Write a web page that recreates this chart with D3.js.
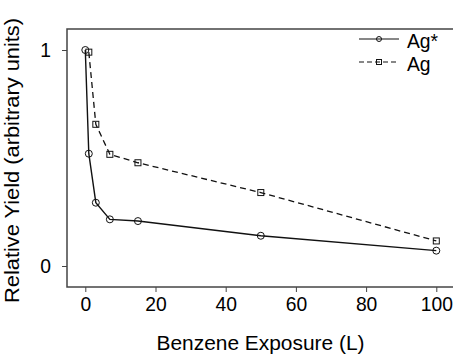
<!DOCTYPE html>
<html>
<head>
<meta charset="utf-8">
<script src="https://cdn.jsdelivr.net/npm/d3@7"></script>
<style>
  body { margin: 0; background: #fff; }
  text { font-family: "Liberation Sans", Arial, sans-serif; fill: #000; }
</style>
</head>
<body>
<svg id="chart"></svg>
<script>
let w = 453
let h = 355

// data
let exposureStar = [0, 1, 3, 7, 15, 50, 100]
let yieldStar = [1.0, 0.52, 0.293, 0.216, 0.208, 0.14, 0.071]
let exposureAg = [1, 3, 7, 15, 50, 100]
let yieldAg = [0.99, 0.656, 0.517, 0.478, 0.34, 0.116]
let xTicks = [0, 20, 40, 60, 80, 100]
let yTicks = [0, 1]
let seriesNames = ["Ag*", "Ag"]

let svg = d3.select("#chart")
    .attr("width", w)
    .attr("height", h)

let x = d3.scaleLinear().domain([0, 100]).range([85.3, 436.3])
let y = d3.scaleLinear().domain([0, 1]).range([266, 50])

let frameLeft = 67, frameTop = 29, frameBottom = 287

// frame (box runs off the right edge)
svg.append("rect")
    .attr("x", frameLeft)
    .attr("y", frameTop)
    .attr("width", w + 10 - frameLeft)
    .attr("height", frameBottom - frameTop)
    .attr("fill", "none")
    .attr("stroke", "#444")
    .attr("stroke-width", 1.5)

let xAxis = svg.append("g")
    .attr("transform", `translate(0,${frameBottom})`)
    .call(d3.axisBottom(x).tickValues(xTicks).tickSize(5).tickPadding(5))
xAxis.select(".domain").remove()
xAxis.selectAll("line").attr("stroke", "#444")
xAxis.selectAll("text").attr("font-size", 19.3).attr("font-family", "Liberation Sans, Arial, sans-serif")

let yAxis = svg.append("g")
    .attr("transform", `translate(${frameLeft},0)`)
    .call(d3.axisLeft(y).tickValues(yTicks).tickFormat(d3.format("d")).tickSize(5).tickPadding(11))
yAxis.select(".domain").remove()
yAxis.selectAll("line").attr("stroke", "#444")
yAxis.selectAll("text").attr("font-size", 19.3).attr("font-family", "Liberation Sans, Arial, sans-serif")

svg.append("text")
    .attr("x", 156.5)
    .attr("y", 350)
    .attr("font-size", 19.5)
    .attr("textLength", 208)
    .attr("lengthAdjust", "spacingAndGlyphs")
    .text("Benzene Exposure (L)")

svg.append("text")
    .attr("transform", "translate(19,303) rotate(-90)")
    .attr("font-size", 19.5)
    .attr("textLength", 285)
    .attr("lengthAdjust", "spacingAndGlyphs")
    .text("Relative Yield (arbitrary units)")

let line = d3.line().x(d => x(d[0])).y(d => y(d[1]))
let starPts = exposureStar.map((e, i) => [e, yieldStar[i]])
let agPts = exposureAg.map((e, i) => [e, yieldAg[i]])

svg.append("path")
    .datum(agPts)
    .attr("d", line)
    .attr("fill", "none")
    .attr("stroke", "#111")
    .attr("stroke-width", 1.3)
    .attr("stroke-dasharray", "6,4")

svg.append("path")
    .datum(starPts)
    .attr("d", line)
    .attr("fill", "none")
    .attr("stroke", "#111")
    .attr("stroke-width", 1.4)

svg.selectAll(".sq")
    .data(agPts)
    .enter()
    .append("rect")
    .attr("x", d => x(d[0]) - 3)
    .attr("y", d => y(d[1]) - 3)
    .attr("width", 6)
    .attr("height", 6)
    .attr("fill", "none")
    .attr("stroke", "#111")
    .attr("stroke-width", 1)

svg.selectAll(".ci")
    .data(starPts)
    .enter()
    .append("circle")
    .attr("cx", d => x(d[0]))
    .attr("cy", d => y(d[1]))
    .attr("r", 3.5)
    .attr("fill", "none")
    .attr("stroke", "#111")
    .attr("stroke-width", 1)

// legend
let legend = svg.append("g")
seriesNames.forEach((name, i) => {
    let ly = 39 + i * 23
    legend.append("line")
        .attr("x1", 359).attr("x2", 399)
        .attr("y1", ly).attr("y2", ly)
        .attr("stroke", "#111")
        .attr("stroke-width", 1.2)
        .attr("stroke-dasharray", i == 1 ? "5,3" : null)
    if (i == 0) {
        legend.append("circle")
            .attr("cx", 379).attr("cy", ly).attr("r", 2.5)
            .attr("fill", "none").attr("stroke", "#111")
    } else {
        legend.append("rect")
            .attr("x", 376.5).attr("y", ly - 2.5).attr("width", 5).attr("height", 5)
            .attr("fill", "none").attr("stroke", "#111")
    }
    legend.append("text")
        .attr("x", 407)
        .attr("y", ly + 9)
        .attr("font-size", 19.3)
        .text(name)
})
</script>
</body>
</html>
